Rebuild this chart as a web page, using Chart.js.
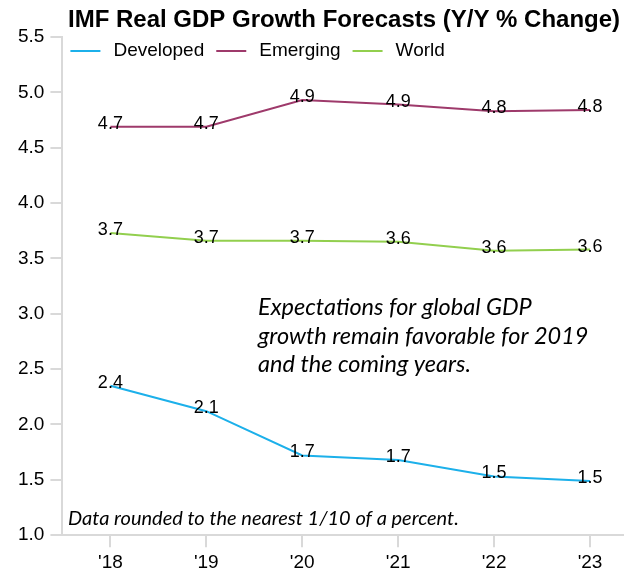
<!DOCTYPE html>
<html>
<head>
<meta charset="utf-8">
<script src="https://cdn.jsdelivr.net/npm/chart.js@4"></script>
<style>
  html, body { margin: 0; padding: 0; background: #fff; overflow: hidden; }
  #wrap { width: 640px; height: 578px; }
</style>
</head>
<body>
<div id="wrap"><canvas id="chart"></canvas></div>
<script>
const years = ["'18", "'19", "'20", "'21", "'22", "'23"];
const developed = [2.35, 2.12, 1.72, 1.68, 1.53, 1.49];
const emerging = [4.69, 4.69, 4.93, 4.89, 4.83, 4.84];
const world = [3.73, 3.66, 3.66, 3.65, 3.57, 3.58];

const FONT = "'Liberation Sans', Arial, sans-serif";
const NOTE_FONT = "Lato, 'Open Sans', sans-serif";

// title, point labels, a legend drawn inside the plot, and the two notes
const extras = {
    id: 'extras',
    afterDatasetsDraw(chart) {
        const ctx = chart.ctx;
        ctx.save();
        ctx.fillStyle = '#000';
        ctx.textAlign = 'left';
        ctx.textBaseline = 'alphabetic';
        ctx.font = 'bold 24px ' + FONT;
        ctx.fillText('IMF Real GDP Growth Forecasts (Y/Y % Change)', 68, 27);

        ctx.font = '18px ' + FONT;
        ctx.textAlign = 'center';
        ctx.textBaseline = 'middle';
        chart.data.datasets.forEach((ds, i) => {
            chart.getDatasetMeta(i).data.forEach((pt, j) => {
                ctx.fillText(ds.data[j].toFixed(1), pt.x, pt.y - 3);
            });
        });

        // legend
        ctx.textAlign = 'left';
        ctx.font = '19px ' + FONT;
        let x = chart.chartArea.left + 8;
        const y = 51;
        chart.data.datasets.forEach(ds => {
            ctx.strokeStyle = ds.borderColor;
            ctx.lineWidth = 2;
            ctx.beginPath();
            ctx.moveTo(x, y);
            ctx.lineTo(x + 30, y);
            ctx.stroke();
            x += 43;
            ctx.fillStyle = '#000';
            ctx.fillText(ds.label, x, y);
            x += ctx.measureText(ds.label).width + 12;
        });

        ctx.textBaseline = 'alphabetic';
        ctx.font = 'italic 23.5px ' + NOTE_FONT;
        ctx.fillText('Expectations for global GDP', 258, 315);
        ctx.fillText('growth remain favorable for 2019', 258, 344);
        ctx.fillText('and the coming years.', 258, 372);

        ctx.font = 'italic 20px ' + NOTE_FONT;
        ctx.fillText('Data rounded to the nearest 1/10 of a percent.', 68, 525);
        ctx.restore();
    }
};

const chart = document.querySelector('#chart').getContext('2d');

new Chart(chart, {
    type: 'line',
    data: {
        labels: years,
        datasets: [
            {
                label: 'Developed',
                data: developed,
                borderColor: '#1CB0EA',
                borderWidth: 2
            },
            {
                label: 'Emerging',
                data: emerging,
                borderColor: '#9E3A6B',
                borderWidth: 2
            },
            {
                label: 'World',
                data: world,
                borderColor: '#92CF4E',
                borderWidth: 2
            }
        ]
    },
    options: {
        responsive: true,
        maintainAspectRatio: false,
        animation: false,
        elements: { point: { radius: 0 }, line: { tension: 0 } },
        layout: { padding: { left: 12, right: 2, top: 37, bottom: 0 } },
        plugins: {
            title: { display: false },
            legend: { display: false },
            tooltip: { enabled: false }
        },
        scales: {
            x: {
                offset: true,
                border: { display: true, color: '#D9D9D9', width: 2 },
                grid: { drawOnChartArea: false, drawTicks: true, tickLength: 12, color: '#D9D9D9', lineWidth: 2 },
                ticks: { color: '#000', font: { family: FONT, size: 19 }, padding: 4, maxRotation: 0 }
            },
            y: {
                min: 1,
                max: 5.5,
                border: { display: true, color: '#D9D9D9', width: 2 },
                grid: { drawOnChartArea: false, drawTicks: true, tickLength: 12, color: '#D9D9D9', lineWidth: 2 },
                ticks: {
                    stepSize: 0.5,
                    color: '#000',
                    font: { family: FONT, size: 19 },
                    padding: 6,
                    callback: v => v.toFixed(1)
                }
            }
        }
    },
    plugins: [extras]
});
</script>
</body>
</html>
